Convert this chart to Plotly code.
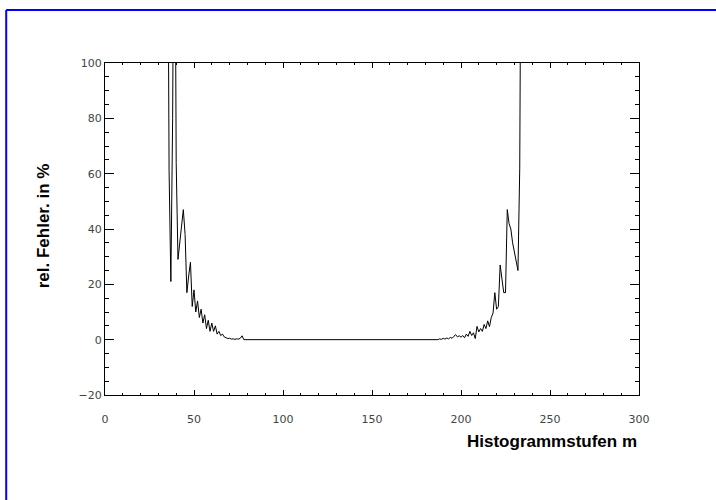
import plotly.graph_objects as go

# Histogram steps m and relative error in percent (values above 100 are clipped by the axis)
m_left = list(range(35, 79))
err_left = [200, 61, 21, 80, 200, 64, 29, 35, 41, 47, 38, 17, 23, 28, 12, 18, 10, 14, 8, 11,
            6, 9, 4, 7, 3, 6, 3, 5, 2, 3, 1.5, 2, 1, 0.8, 0.4, 0.5, 0.2, 0.3, 0.1, 0.3,
            0.2, 0.5, 1.4, 0]
m_flat = list(range(79, 188))
err_flat = [0] * len(m_flat)
m_right = list(range(188, 235))
err_right = [0.3, 0.1, 0.5, 0.2, 0.6, 0.3, 0.8, 0.5, 1.2, 1.8, 1.0, 1.4, 0.9, 1.5, 0.7,
             2.0, 1.2, 3.0, 1.5, 2.5, 0.4, 4.8, 2.8, 4.0, 3.0, 5.5, 4.0, 6.8, 4.7, 8.0,
             9.6, 17, 11, 12, 27, 22, 17, 17, 47, 42, 40, 35, 32, 28, 25, 62, 200]

m = m_left + m_flat + m_right
err = err_left + err_flat + err_right

x_ticks = [0, 50, 100, 150, 200, 250, 300]
y_ticks = [-20, 0, 20, 40, 60, 80, 100]

fig = go.Figure(go.Scatter(x=m, y=err, mode="lines",
                           line=dict(color="black", width=1), showlegend=False))

tickfont = dict(family="DejaVu Sans", size=11, color="#444")
fig.update_xaxes(range=[0, 300], tickvals=x_ticks, ticks="inside", ticklen=5, tickwidth=1,
                 tickcolor="black", mirror="allticks", showline=True, linecolor="black",
                 linewidth=1, showgrid=False, zeroline=False, tickfont=tickfont,
                 ticklabelstandoff=14,
                 minor=dict(ticks="inside", dtick=10, ticklen=2, tickcolor="black"))
fig.update_yaxes(range=[-20, 100], tickvals=y_ticks, ticks="inside", ticklen=9, tickwidth=1,
                 tickcolor="black", mirror="allticks", showline=True, linecolor="black",
                 linewidth=1, showgrid=False, zeroline=False, tickfont=tickfont,
                 minor=dict(ticks="inside", dtick=5, ticklen=4, tickcolor="black"))

fig.add_annotation(text="<b>Histogrammstufen m</b>", xref="paper", yref="paper",
                   x=1.0, y=-0.105, xanchor="right", yanchor="top",
                   showarrow=False, font=dict(family="Liberation Sans, Arial", size=17,
                                              color="black"))
fig.add_annotation(text="<b>rel. Fehler. in %</b>", xref="paper", yref="paper",
                   x=-0.115, y=0.51, xanchor="center", yanchor="middle", textangle=-90,
                   showarrow=False, font=dict(family="Liberation Sans, Arial", size=17,
                                              color="black"))

# blue frame (left and top edges of the page)
fig.add_shape(type="line", xref="paper", yref="paper", x0=-0.185, x1=1.2, y0=1.16, y1=1.16,
              line=dict(color="blue", width=2))
fig.add_shape(type="line", xref="paper", yref="paper", x0=-0.185, x1=-0.185, y0=-0.35, y1=1.16,
              line=dict(color="blue", width=2))

fig.update_layout(width=716, height=500, margin=dict(l=105, r=77, t=63, b=105),
                  plot_bgcolor="white", paper_bgcolor="white")

fig.write_html("out.html", config={"displayModeBar": False},
               post_script="document.body.style.margin='0px';")
